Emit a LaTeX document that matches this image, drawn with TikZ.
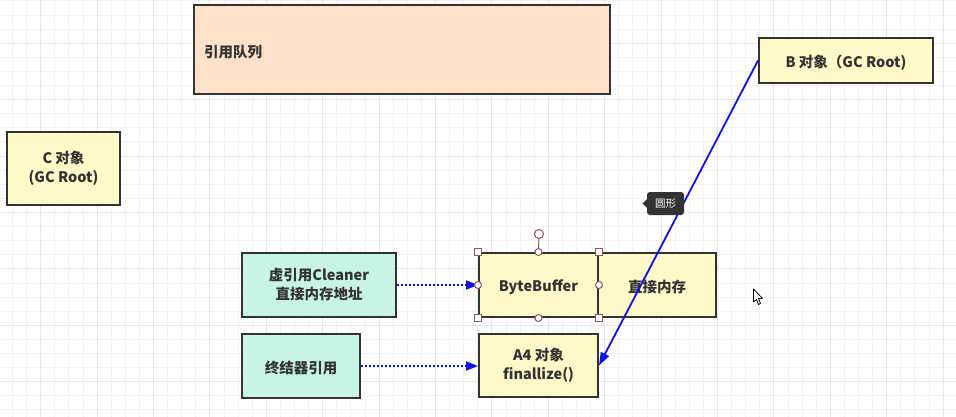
\documentclass[tikz,border=0pt]{standalone}
\usepackage{fontspec}
\setmainfont{Noto Sans CJK SC}
\usetikzlibrary{arrows.meta}
\definecolor{gridminor}{HTML}{F3F3F3}
\definecolor{gridmajor}{HTML}{E6E6E6}
\definecolor{boxline}{HTML}{333333}
\definecolor{txt}{HTML}{333333}
\definecolor{yel}{HTML}{FFFAC8}
\definecolor{peach}{HTML}{FFE0C8}
\definecolor{mint}{HTML}{C8F5E3}
\definecolor{arrblue}{HTML}{1010E8}
\definecolor{handle}{HTML}{8A5A5A}
\definecolor{tipbg}{HTML}{333333}
\newcommand\boxstart{\lineskiplimit=-30pt\relax\lineskip=0pt\relax\rule{0pt}{17pt}}
\tikzset{
  box/.style={draw=boxline, line width=2pt, text=txt, align=center, inner sep=0pt,
    font=\fontsize{14.5}{19}\selectfont\bfseries,
    execute at begin node={\boxstart}},
  dotarrow/.style={draw=arrblue, line width=2pt, dash pattern=on 2pt off 2pt,
    -{Triangle[length=12pt,width=9pt,fill=arrblue]}},
  solidarrow/.style={draw=arrblue, line width=1.8pt,
    -{Triangle[length=13pt,width=9pt,fill=arrblue]}},
  sqhandle/.style={draw=handle, fill=white, line width=1pt, minimum size=7pt, inner sep=0pt, rectangle},
  cirhandle/.style={draw=handle, fill=white, line width=1pt, minimum size=7pt, inner sep=0pt, circle},
}
\begin{document}
\begin{tikzpicture}[x=1pt,y=-1pt]
\useasboundingbox (0,0) rectangle (956,417);
\fill[white] (0,0) rectangle (956,417);
% grid
\foreach \i in {-3,...,66} {
  \pgfmathsetmacro\xx{40.7+14.1*\i}
  \draw[gridminor, line width=1pt] (\xx,0) -- (\xx,417);
}
\foreach \i in {-4,...,26} {
  \pgfmathsetmacro\yy{43.3+14.1*\i}
  \draw[gridminor, line width=1pt] (0,\yy) -- (956,\yy);
}
\foreach \i in {0,...,16} {
  \pgfmathsetmacro\xx{40.7+56.4*\i}
  \draw[gridmajor, line width=1pt] (\xx,0) -- (\xx,417);
}
\foreach \i in {-1,...,6} {
  \pgfmathsetmacro\yy{43.3+56.4*\i}
  \draw[gridmajor, line width=1pt] (0,\yy) -- (956,\yy);
}
% boxes
\node[box, fill=peach, minimum width=416pt, minimum height=89pt, text width=396pt, align=left] (queue) at (402,49.5) {引用队列};
\node[box, fill=yel, minimum width=113pt, minimum height=73pt] (c) at (63.5,168.5) {C 对象\\(GC Root)};
\node[box, fill=yel, minimum width=174pt, minimum height=45pt] (b) at (846,60.5) {B 对象（GC Root)};
\node[box, fill=yel, minimum width=119pt, minimum height=64pt] (bb) at (538.5,285) {ByteBuffer};
\node[box, fill=yel, minimum width=118pt, minimum height=64pt] (mem) at (657,285) {直接内存};
\node[box, fill=yel, minimum width=119pt, minimum height=63pt] (a4) at (538.5,365.5) {A4 对象\\finallize()};
\node[box, fill=mint, minimum width=154pt, minimum height=64pt] (cleaner) at (319,285) {虚引用Cleaner\\直接内存地址};
\node[box, fill=mint, minimum width=118pt, minimum height=64pt] (final) at (301,366) {终结器引用};
% connectors
\draw[dotarrow] (cleaner.east) -- (bb.west);
\draw[dotarrow] (final.east) -- (final.east -| a4.west);
\draw[solidarrow] (b.west) -- (a4.east);
% selection handles on ByteBuffer
\coordinate (rot) at (539,234);
\draw[handle, line width=1pt] (bb.north) -- (rot);
\node[cirhandle, minimum size=9pt] (roth) at (rot) {};
\node[sqhandle] (h1) at (bb.north west) {};
\node[sqhandle] (h2) at (bb.north east) {};
\node[sqhandle] (h3) at (bb.south west) {};
\node[sqhandle] (h4) at (bb.south east) {};
\node[cirhandle] (h5) at (bb.north) {};
\node[cirhandle] (h6) at (bb.south) {};
\node[cirhandle] (h7) at (bb.west) {};
\node[cirhandle] (h8) at (bb.east) {};
% tooltip
\fill[tipbg, rounded corners=3pt] (647,192) rectangle (684,215);
\fill[tipbg] (647,199) -- (642.5,203.5) -- (647,208) -- cycle;
\node[text=white, font=\fontsize{10.5}{12}\selectfont, inner sep=0pt] (tip) at (665.5,203.5) {圆形};
% cursor
\draw[black, fill=white, line width=0.8pt, line join=round]
  (753.5,289) -- (753.5,302) -- (756.5,299.5) -- (758.5,304.5) -- (760.5,303.5) -- (758.5,298.5) -- (762.5,298.5) -- cycle;
\end{tikzpicture}
\end{document}
